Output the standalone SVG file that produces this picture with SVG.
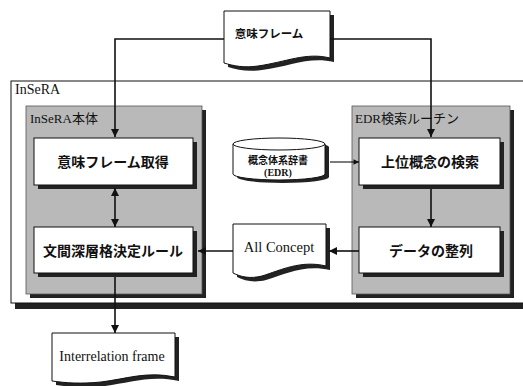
<svg xmlns="http://www.w3.org/2000/svg" width="523" height="386" viewBox="0 0 523 386">
<style>
.jp{font-family:"Noto Sans CJK JP","Noto Sans",sans-serif;fill:#111;text-anchor:middle;font-weight:bold}
.lat{font-family:"Liberation Serif","Noto Sans CJK JP",serif;fill:#111}
.box{fill:#fff;stroke:#111;stroke-width:1}
.shadow{fill:#222}
.panel{fill:#b9b9b9;stroke:#555;stroke-width:0.8}
.conn{fill:none;stroke:#111;stroke-width:1.6}
</style>
<defs>
<marker id="ah" viewBox="0 0 10 10" refX="10" refY="5" markerWidth="5.5" markerHeight="5" orient="auto-start-reverse" markerUnits="strokeWidth">
<path d="M0,0 L10,5 L0,10 Z" fill="#111"/>
</marker>
</defs>
<rect width="523" height="386" fill="#fff"/>

<g id="insera">
<rect x="15" y="85" width="530" height="224" class="shadow"/>
<rect x="11" y="81" width="530" height="222" fill="#fff" stroke="#111" stroke-width="1"/>
<text x="15" y="94" class="lat" font-size="14">InSeRA</text>
</g>

<g id="insera-main">
<rect x="30" y="110" width="176" height="188" class="shadow"/>
<rect x="26" y="106" width="176" height="188" class="panel"/>
<text x="30" y="123" class="lat" font-size="13">InSeRA本体</text>
</g>

<g id="edr-routine">
<rect x="356" y="110" width="158" height="188" class="shadow"/>
<rect x="352" y="106" width="158" height="188" class="panel"/>
<text x="355" y="123" class="lat" font-size="13">EDR検索ルーチン</text>
</g>

<g id="imi-frame-doc">
<path d="M228,15 H334 V62 C310,56 290,66 262,70 C248,72 238,70 228,67 Z" class="shadow"/>
<path d="M224,11 H330 V58 C306,52 286,62 258,66 C244,68 234,66 224,63 Z" class="box"/>
<text x="269" y="38" class="jp" font-size="11.5">意味フレーム</text>
</g>

<g id="imi-frame-get">
<rect x="38" y="142" width="159" height="47" class="shadow"/>
<rect x="34" y="138" width="159" height="47" class="box"/>
<text x="113" y="167" class="jp" font-size="14">意味フレーム取得</text>
</g>

<g id="rule">
<rect x="38" y="231" width="159" height="46" class="shadow"/>
<rect x="34" y="227" width="159" height="46" class="box"/>
<text x="113" y="256" class="jp" font-size="14">文間深層格決定ルール</text>
</g>

<g id="upper-concept">
<rect x="363" y="142" width="141" height="47" class="shadow"/>
<rect x="359" y="138" width="141" height="47" class="box"/>
<text x="430" y="167" class="jp" font-size="14">上位概念の検索</text>
</g>

<g id="data-sort">
<rect x="363" y="231" width="141" height="46" class="shadow"/>
<rect x="359" y="227" width="141" height="46" class="box"/>
<text x="431" y="256" class="jp" font-size="14">データの整列</text>
</g>

<g id="edr-dict">
<path d="M237,147 A46,6 0 0 1 329,147 V177 A46,6 0 0 1 237,177 Z" class="shadow"/>
<path d="M233,144 A46,6 0 0 1 325,144 V174 A46,6 0 0 1 233,174 Z" class="box"/>
<path d="M233,144 A46,6 0 0 0 325,144" fill="none" stroke="#111" stroke-width="1"/>
<text x="278" y="164" class="jp" font-size="10">概念体系辞書</text>
<text x="278" y="176" class="lat" font-size="10" font-weight="bold" text-anchor="middle">(EDR)</text>
</g>

<g id="all-concept">
<path d="M237,228 H330 V270 C305,264 285,274 266,280 C254,283 245,281 237,277 Z" class="shadow"/>
<path d="M233,224 H326 V266 C301,260 281,270 262,276 C250,279 241,277 233,273 Z" class="box"/>
<text x="279" y="252" class="lat" font-size="14.5" text-anchor="middle">All Concept</text>
</g>

<g id="interrelation">
<path d="M56,337 H179 V381 C150,375 130,383 105,386 C85,388 70,387 56,385 Z" class="shadow"/>
<path d="M52,333 H175 V377 C146,371 126,379 101,382 C81,384 66,383 52,381 Z" class="box"/>
<text x="112" y="361" class="lat" font-size="14" text-anchor="middle">Interrelation frame</text>
</g>

<g id="connectors">
<polyline points="224,39 115,39 115,137" class="conn" marker-end="url(#ah)"/>
<polyline points="330,39 431,39 431,137" class="conn" marker-end="url(#ah)"/>
<line x1="115" y1="188" x2="115" y2="227" class="conn" marker-start="url(#ah)" marker-end="url(#ah)"/>
<line x1="431" y1="189" x2="431" y2="227" class="conn" marker-end="url(#ah)"/>
<line x1="330" y1="162" x2="359" y2="162" stroke="#111" stroke-width="1.1" marker-end="url(#ah)"/>
<line x1="359" y1="251" x2="329" y2="251" class="conn" marker-end="url(#ah)"/>
<line x1="233" y1="251" x2="198" y2="251" class="conn" marker-end="url(#ah)"/>
<line x1="115" y1="277" x2="115" y2="333" class="conn" marker-end="url(#ah)"/>
</g>
</svg>
